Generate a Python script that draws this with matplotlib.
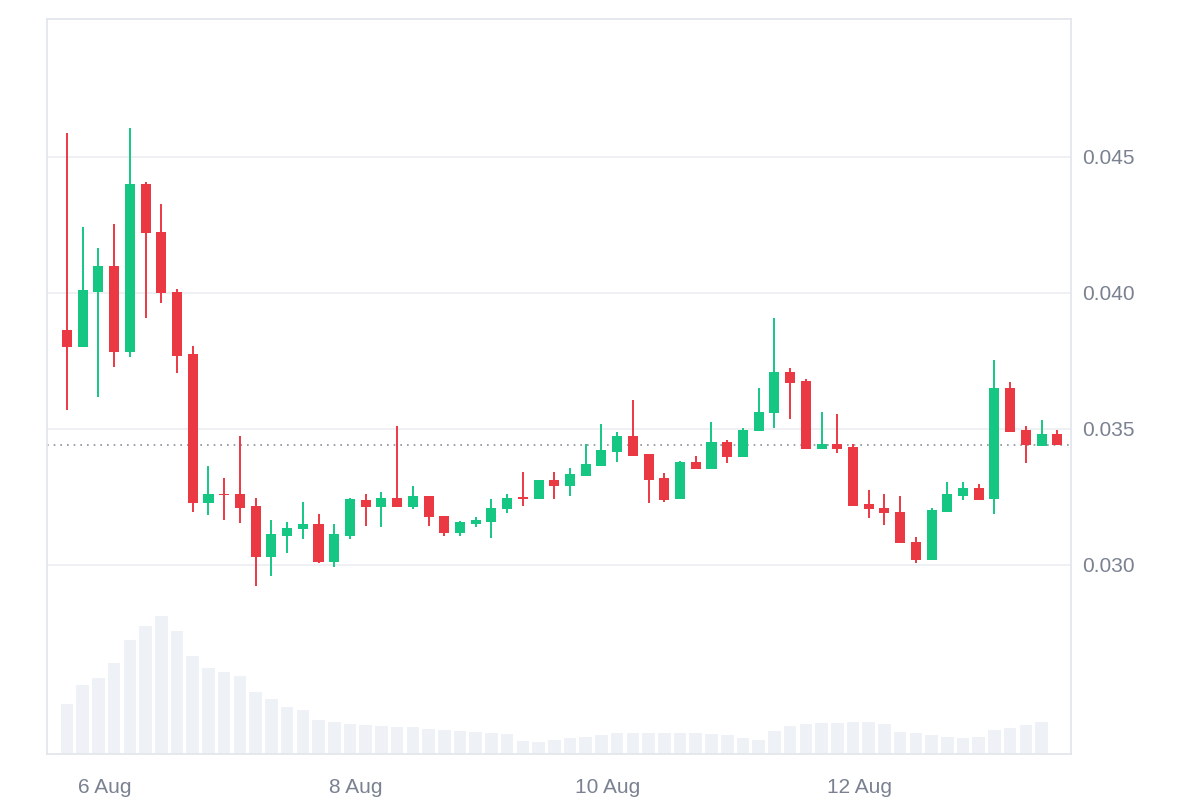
import pandas as pd
import matplotlib
matplotlib.use('Agg')
import matplotlib.pyplot as plt
import matplotlib.dates as mdates

plt.rcParams['font.family'] = ['Liberation Sans', 'DejaVu Sans']

# 3-hour candles
opens = [0.03864, 0.03801, 0.04004, 0.04099, 0.03783, 0.04401, 0.04224, 0.04004,
         0.03776, 0.03228, 0.03262, 0.03261, 0.03217, 0.03029, 0.03107, 0.03132,
         0.03151, 0.03011, 0.03107, 0.03239, 0.03213, 0.03246, 0.03213, 0.03254,
         0.03180, 0.03118, 0.03151, 0.03158, 0.03206, 0.03248, 0.03243, 0.03313,
         0.03290, 0.03327, 0.03364, 0.03415, 0.03474, 0.03408, 0.03320, 0.03243,
         0.03379, 0.03353, 0.03452, 0.03397, 0.03493, 0.03559, 0.03710, 0.03676,
         0.03426, 0.03445, 0.03434, 0.03224, 0.03210, 0.03195, 0.03085, 0.03018,
         0.03195, 0.03254, 0.03283, 0.03243, 0.03651, 0.03496, 0.03437, 0.03482]
highs = [0.04588, 0.04243, 0.04165, 0.04254, 0.04607, 0.04408, 0.04327, 0.04015,
         0.03805, 0.03364, 0.03320, 0.03474, 0.03246, 0.03165, 0.03158, 0.03232,
         0.03188, 0.03151, 0.03246, 0.03261, 0.03268, 0.03511, 0.03290, 0.03254,
         0.03180, 0.03160, 0.03176, 0.03243, 0.03261, 0.03342, 0.03313, 0.03342,
         0.03357, 0.03445, 0.03518, 0.03489, 0.03607, 0.03408, 0.03338, 0.03383,
         0.03401, 0.03526, 0.03460, 0.03504, 0.03651, 0.03908, 0.03724, 0.03684,
         0.03563, 0.03555, 0.03445, 0.03276, 0.03261, 0.03254, 0.03103, 0.03210,
         0.03305, 0.03305, 0.03298, 0.03754, 0.03673, 0.03511, 0.03533, 0.03496]
lows = [0.03570, 0.03800, 0.03618, 0.03728, 0.03765, 0.03908, 0.03963, 0.03706,
        0.03195, 0.03184, 0.03165, 0.03154, 0.02923, 0.02960, 0.03044, 0.03096,
        0.03007, 0.02993, 0.03096, 0.03143, 0.03140, 0.03213, 0.03206, 0.03143,
        0.03107, 0.03107, 0.03140, 0.03099, 0.03191, 0.03217, 0.03243, 0.03243,
        0.03254, 0.03327, 0.03364, 0.03379, 0.03401, 0.03228, 0.03232, 0.03243,
        0.03353, 0.03353, 0.03375, 0.03397, 0.03493, 0.03504, 0.03537, 0.03426,
        0.03426, 0.03412, 0.03217, 0.03173, 0.03147, 0.03081, 0.03007, 0.03018,
        0.03195, 0.03239, 0.03239, 0.03188, 0.03489, 0.03375, 0.03437, 0.03441]
closes = [0.03801, 0.04011, 0.04099, 0.03783, 0.04401, 0.04221, 0.04000, 0.03768,
          0.03228, 0.03261, 0.03258, 0.03210, 0.03029, 0.03114, 0.03136, 0.03151,
          0.03011, 0.03114, 0.03243, 0.03213, 0.03246, 0.03213, 0.03254, 0.03176,
          0.03118, 0.03158, 0.03165, 0.03210, 0.03246, 0.03244, 0.03313, 0.03290,
          0.03335, 0.03371, 0.03423, 0.03474, 0.03401, 0.03313, 0.03239, 0.03379,
          0.03353, 0.03452, 0.03397, 0.03496, 0.03563, 0.03710, 0.03669, 0.03426,
          0.03445, 0.03426, 0.03217, 0.03206, 0.03191, 0.03081, 0.03018, 0.03202,
          0.03261, 0.03283, 0.03239, 0.03651, 0.03489, 0.03441, 0.03482, 0.03441]
# volume (relative units), one bar fewer than candles
volume = [50, 69, 76, 91, 114, 128, 138, 123, 98, 86, 82, 78, 62, 55, 47, 44,
          34, 32, 30, 29, 28, 27, 27, 25, 24, 23, 22, 21, 20, 13, 12, 14,
          16, 17, 19, 21, 21, 21, 21, 21, 21, 20, 19, 16, 14, 23, 28, 30,
          31, 31, 32, 32, 30, 22, 21, 19, 17, 16, 17, 24, 26, 29, 32]

tick_dates = ['2024-08-06', '2024-08-08', '2024-08-10', '2024-08-12']
tick_labels = ['6 Aug', '8 Aug', '10 Aug', '12 Aug']
price_ticks = [0.030, 0.035, 0.040, 0.045]

times = pd.date_range('2024-08-05 16:50', periods=len(opens), freq='3h')
x = mdates.date2num(times.to_pydatetime())
step = 0.125  # days

green = '#16c784'
red = '#ea3943'
colors = [green if c >= o else red for o, c in zip(opens, closes)]

fig = plt.figure(figsize=(12, 8), dpi=100)
ax = fig.add_axes([0.0392, 0.0575, 0.8533, 0.9187])
ax2 = ax.twinx()

# volume bars behind the candles
ax2.bar(x[:len(volume)], volume, width=step * 0.8, color='#eef1f5', zorder=1)
ax2.set_ylim(0, max(volume) * 5.33)
ax2.set_yticks([])
for s in ax2.spines.values():
    s.set_visible(False)
ax.set_zorder(ax2.get_zorder() + 1)
ax.patch.set_visible(False)

# candles
ax.vlines(x, lows, highs, colors=colors, linewidth=1.4, zorder=3)
bottoms = [min(o, c) for o, c in zip(opens, closes)]
heights = [max(abs(c - o), 0.00004) for o, c in zip(opens, closes)]
ax.bar(x, heights, bottom=bottoms, width=step * 0.64, color=colors, zorder=4)

# last price line
ax.axhline(closes[-1], color='#8a8f99', linestyle=(0, (1, 3)), linewidth=1.2, zorder=2)

ax.set_xlim(x[0] - 1.27 * step, x[0] + 63.87 * step)
ax.set_ylim(0.02305, 0.05007)

ax.set_xticks(mdates.date2num(pd.to_datetime(tick_dates).to_pydatetime()))
ax.set_xticklabels(tick_labels)
ax.set_yticks(price_ticks)
ax.set_yticklabels([f'{p:.3f}' for p in price_ticks])
ax.yaxis.tick_right()
ax.tick_params(axis='x', length=0, pad=17, labelsize=15, labelcolor='#7a8190')
ax.tick_params(axis='y', length=0, pad=8, labelsize=15, labelcolor='#7a8190')
ax.grid(axis='y', color='#eceef2', linewidth=1.2, zorder=0)
ax.set_axisbelow(True)
for s in ax.spines.values():
    s.set_color('#e3e6ea')
    s.set_linewidth(1.3)

fig.savefig('out.png', dpi=100, facecolor='white')
